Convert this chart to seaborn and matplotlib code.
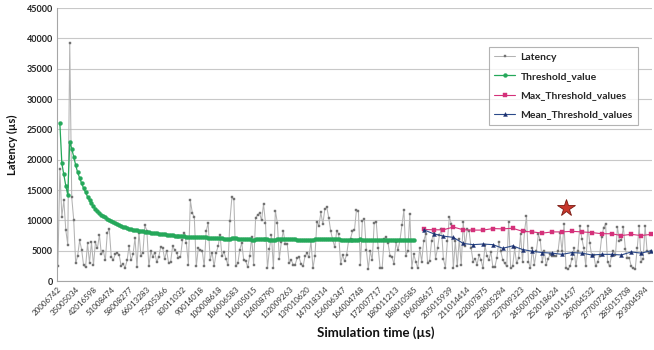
import matplotlib
matplotlib.use('Agg')
import numpy as np
import matplotlib.pyplot as plt
import seaborn as sns

# x tick labels, one every 9 samples
sim_time_labels = ['20006742', '35005034', '42016598', '51008474', '58008277',
                   '66013283', '75005366', '83011032', '90014018', '100008618',
                   '106006583', '116005015', '124008790', '132009263', '139010620',
                   '147018314', '156006347', '164004748', '172007717', '180011213',
                   '188010585', '196008617', '205015939', '211014414', '222007875',
                   '228005294', '237009323', '245007001', '252018624', '261011437',
                   '269004532', '277007248', '285015708', '293004594']
label_every = 9

latency = [
    2500, 18400, 10600, 13300, 8400, 6000, 39200, 13800, 10100, 2900,
    4200, 6700, 5200, 2600, 2300, 6200, 3000, 6400, 2600, 6400,
    5400, 7600, 4400, 5000, 3400, 8000, 8500, 4000, 3500, 4400,
    4700, 4300, 2500, 2800, 2200, 3400, 5800, 3400, 4400, 7100,
    2300, 8000, 4200, 4700, 9200, 8300, 2400, 4900, 4000, 4700,
    3100, 4000, 5600, 5500, 3600, 5000, 3000, 3100, 5700, 5200,
    4700, 3800, 4000, 6700, 8000, 6200, 2700, 13300, 11200, 10500,
    2400, 5400, 5100, 5000, 2400, 8200, 9600, 3500, 4700, 2400,
    4600,
    5700, 7600, 4100, 4800, 3700, 2600, 9900, 13800, 13500, 2500,
    2900, 5200, 6300, 3400, 3300, 2300, 4100, 7300, 2700, 10400,
    10900, 11200, 10000, 12700, 9600, 2100, 5300, 7600, 2200, 11600,
    9600, 3700, 6400, 8300, 6100, 6100, 2900, 3500, 2700, 2700,
    3800, 3900,
    2800, 2400, 4100, 4600, 3900, 6600, 2100, 4100, 9800, 9100,
    11300, 9400, 11800, 12200, 10400, 8200, 6800, 5600, 8200, 7800,
    2800, 4300, 3300, 4300, 6600, 7000, 8200, 8400, 11700, 11500,
    2600, 9900, 10200, 5200, 2000, 4900, 3500, 9600, 9800, 5400,
    2100, 2100, 7000, 7200, 6200, 4200, 4000, 2800, 6400, 5100,
    6700, 9200, 11700, 4200, 5000, 11000, 2200, 4400, 3200, 2100,
    5400,
    3200, 6600, 7700, 2900, 3300, 6600, 7900, 3700, 5400, 7600,
    8500, 3600, 2200, 6600, 10600, 9400, 2100, 6600, 2400, 7000,
    2600, 9800, 5700, 8500, 8200, 5400, 3200, 3700, 2700, 4300,
    3500, 2100, 5900, 4200, 3500, 4800, 2300, 2300, 3800, 6400,
    4900, 3500, 2900, 2400, 9800, 2100, 2400, 5400, 2900, 3800,
    7700, 3200, 8200, 10700, 3200, 2100, 5400, 2700, 4900, 7700,
    6700, 3200, 4900, 2700, 3700, 4400, 4200, 4100, 4100, 5000,
    7900, 4900, 9400, 2100, 2000, 2400, 3700, 5400, 2400, 4900,
    9100, 7000, 5400, 2400, 9100, 6300, 4100, 4300, 2400, 3200,
    4200, 7200, 8800, 9400, 3200, 2400, 4200, 4900, 4300, 8900,
    6600, 6800, 8900, 5300, 3800, 3800, 2400, 2100, 2000, 5400,
    9100, 3200, 3700, 9100, 4900, 4600, 5000]

# threshold starts at the 2nd sample
threshold_first = 2
threshold_value = [
    26000, 19400, 17600, 15700, 14200,
    23000, 21800, 20500, 19100, 17900, 17000, 16100, 15300, 14600, 13900,
    13300, 12800, 12300, 11900, 11500, 11200, 10900, 10700, 10500, 10300,
    10100, 9900, 9700, 9500, 9350, 9200, 9050, 8950, 8850, 8750,
    8650, 8550, 8480, 8420, 8360, 8300, 8240, 8180, 8120, 8070,
    8020, 7970, 7920, 7880, 7840, 7800, 7760, 7720, 7680, 7640,
    7600, 7570, 7540, 7500, 7470, 7440, 7410, 7380, 7350, 7320,
    7290, 7260, 7330, 7310, 7290, 7270, 7250, 7220, 7200, 7180,
    7160, 7140, 7120, 7100, 7080, 7060, 7040, 7020, 7000, 6980,
    6960, 6940, 7020, 7060, 7040, 7010, 6980, 6950, 6920, 6900,
    6880, 6860, 6840, 6820, 6850, 6900, 6930, 6950, 6920, 6890,
    6860, 6840, 6820, 6800, 6830, 6870, 6900, 6930, 6950, 6970,
    6950, 6920, 6900, 6880, 6850, 6830, 6810, 6800, 6780, 6770,
    6760, 6750, 6780, 6820, 6860, 6890, 6900, 6920, 6910, 6900,
    6890, 6870, 6860, 6850, 6870, 6880, 6860, 6840, 6830, 6820,
    6800, 6790, 6780, 6800, 6820, 6830, 6840, 6850, 6840, 6830,
    6820, 6810, 6800, 6790, 6780, 6800, 6820, 6810, 6800, 6790,
    6780, 6770, 6760, 6780, 6800, 6810, 6790, 6780, 6770, 6760,
    6750, 6770, 6790, 6800, 6780]

ref_samples = [186, 191, 196, 201, 206, 211, 216, 221, 226, 231, 236, 241,
               246, 251, 256, 261, 266, 271, 276, 281, 286, 291, 296, 301]
max_threshold = [8500, 8450, 8450, 8900, 8450, 8400, 8400, 8650, 8600, 8700,
                 8200, 8100, 7900, 8100, 8100, 8200, 8100, 8000, 7800, 7800,
                 7500, 7700, 7500, 7700]
mean_threshold = [8450, 7800, 7400, 7200, 6200, 6000, 6100, 6000, 5400, 5800,
                  5200, 4900, 4700, 4600, 4400, 4700, 4600, 4300, 4400, 4400,
                  4300, 4800, 4600, 5000]

star_sample = 258
star_latency = 12100

sns.set_theme(style='white')
plt.rcParams['font.family'] = ['Lato', 'DejaVu Sans']

fig, ax = plt.subplots(figsize=(6.54, 3.5), dpi=100)
fig.subplots_adjust(left=0.087, right=0.997, top=0.977, bottom=0.197)

n = len(latency)
sample = np.arange(1, n + 1)
thr_x = np.arange(threshold_first, threshold_first + len(threshold_value))

sns.lineplot(x=sample, y=latency, ax=ax, color='#b3b3b3', linewidth=0.75,
             marker='s', markersize=1.8, markerfacecolor='#727272',
             markeredgecolor='#727272', markeredgewidth=0.3, label='Latency')
sns.lineplot(x=thr_x, y=threshold_value, ax=ax, color='#25a85a', linewidth=0.9,
             marker='o', markersize=2.8, markerfacecolor='#25a85a',
             markeredgecolor='#25a85a', markeredgewidth=0.3, label='Threshold_value')
sns.lineplot(x=ref_samples, y=max_threshold, ax=ax, color='#d4317a', linewidth=0.8,
             marker='s', markersize=2.4, markerfacecolor='#d4317a',
             markeredgecolor='#d4317a', markeredgewidth=0.3, label='Max_Threshold_values')
sns.lineplot(x=ref_samples, y=mean_threshold, ax=ax, color='#2b4a8a', linewidth=0.8,
             marker='^', markersize=2.8, markerfacecolor='#1b2f6e',
             markeredgecolor='#1b2f6e', markeredgewidth=0.3, label='Mean_Threshold_values')

ax.plot(star_sample, star_latency, marker='*', markersize=13, color='#c8372d',
        markeredgecolor='#7a1a12', markeredgewidth=0.6, linestyle='none')

ax.set_xlim(0.5, n + 0.5)
ax.set_ylim(0, 45000)
ax.set_yticks(np.arange(0, 45001, 5000))
ax.set_yticklabels([str(v) for v in range(0, 45001, 5000)],
                   fontsize=6.5, fontweight='bold', color='#222222')
ax.set_xticks(sample[::label_every][:len(sim_time_labels)])
ax.set_xticklabels(sim_time_labels, rotation=45, ha='right',
                   rotation_mode='anchor', fontsize=5.8, color='#333333')
ax.tick_params(axis='both', length=0, pad=3)

ax.yaxis.grid(True, color='#c8c8c8', linewidth=0.8)
ax.xaxis.grid(False)
for side in ['top', 'right']:
    ax.spines[side].set_visible(False)
for side in ['left', 'bottom']:
    ax.spines[side].set_color('#a6a6a6')
    ax.spines[side].set_linewidth(0.8)

ax.set_ylabel('Latency (µs)', fontsize=8, fontweight='bold', color='#111111')
ax.set_xlabel('Simulation time (µs)', fontsize=9.5, fontweight='bold', color='#111111')
ax.yaxis.set_label_coords(-0.066, 0.5)
ax.xaxis.set_label_coords(0.535, -0.165)

leg = ax.legend(loc='upper right', bbox_to_anchor=(0.985, 0.875), frameon=True,
                fancybox=False, edgecolor='#a0a0a0', handlelength=2.0,
                labelspacing=0.95, borderpad=0.5, handletextpad=0.5,
                prop={'weight': 'bold', 'size': 7.5})
leg.get_frame().set_linewidth(0.8)

fig.savefig('out.png', dpi=100)
